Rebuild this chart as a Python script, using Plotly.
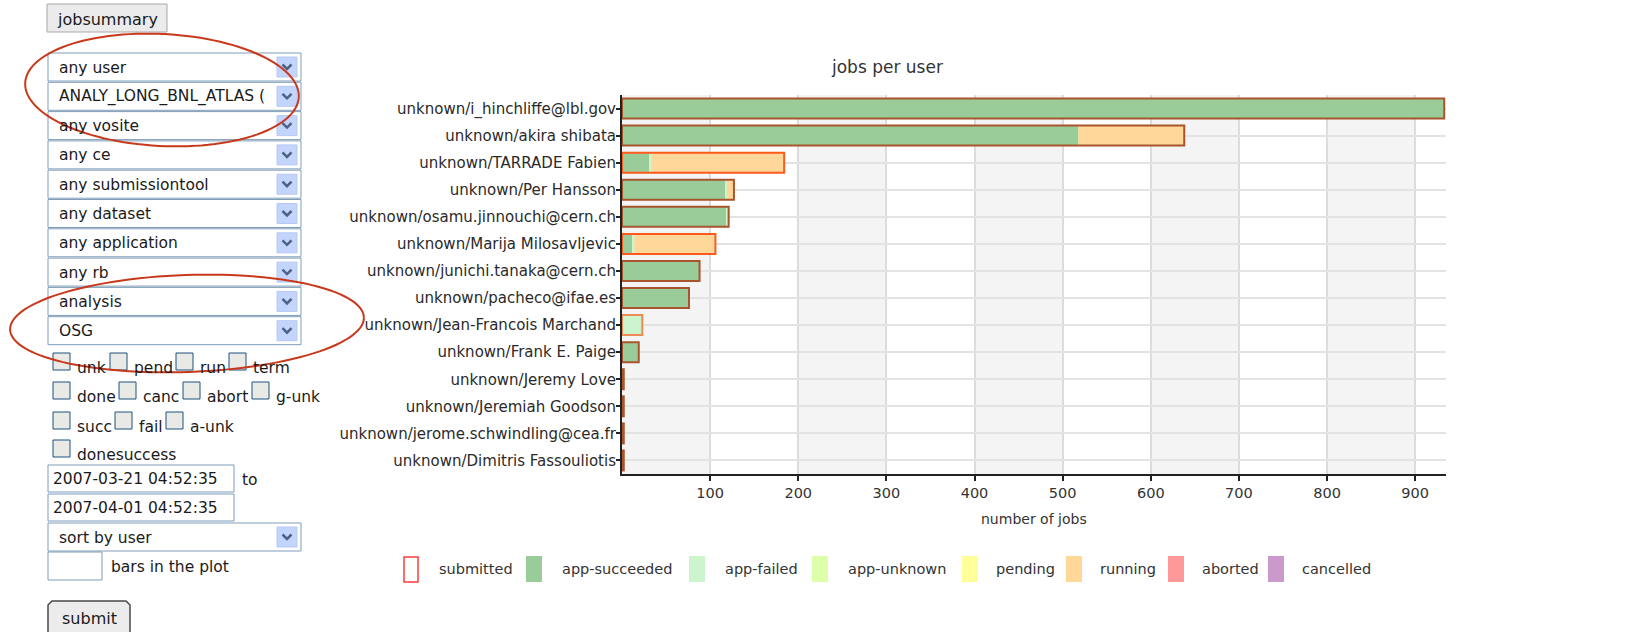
import math
import plotly.graph_objects as go

# ---------------- data ----------------
users = [
    "unknown/i_hinchliffe@lbl.gov",
    "unknown/akira shibata",
    "unknown/TARRADE Fabien",
    "unknown/Per Hansson",
    "unknown/osamu.jinnouchi@cern.ch",
    "unknown/Marija Milosavljevic",
    "unknown/junichi.tanaka@cern.ch",
    "unknown/pacheco@ifae.es",
    "unknown/Jean-Francois Marchand",
    "unknown/Frank E. Paige",
    "unknown/Jeremy Love",
    "unknown/Jeremiah Goodson",
    "unknown/jerome.schwindling@cea.fr",
    "unknown/Dimitris Fassouliotis",
]
submitted     = [933, 638, 184, 127, 121, 106, 88, 76, 23, 19, 2, 2, 2, 2]
app_succeeded = [933, 518, 31, 117, 118, 12, 88, 75, 0, 19, 2, 2, 2, 2]
app_failed    = [0, 0, 2, 2, 3, 2, 0, 1, 23, 0, 0, 0, 0, 0]
app_unknown   = [0, 0, 0, 0, 0, 0, 0, 0, 0, 0, 0, 0, 0, 0]
pending       = [0, 0, 0, 0, 0, 0, 0, 0, 0, 0, 0, 0, 0, 0]
running       = [0, 120, 151, 8, 0, 92, 0, 0, 0, 0, 0, 0, 0, 0]
aborted       = [0, 0, 0, 0, 0, 0, 0, 0, 0, 0, 0, 0, 0, 0]
cancelled     = [0, 0, 0, 0, 0, 0, 0, 0, 0, 0, 0, 0, 0, 0]
x_ticks = [100, 200, 300, 400, 500, 600, 700, 800, 900]

legend_names = ["submitted", "app-succeeded", "app-failed", "app-unknown",
                "pending", "running", "aborted", "cancelled"]

select_labels = ["any user", "ANALY_LONG_BNL_ATLAS (", "any vosite", "any ce",
                 "any submissiontool", "any dataset", "any application",
                 "any rb", "analysis", "OSG"]
checkbox_rows = [["unk", "pend", "run", "term"],
                 ["done", "canc", "abort", "g-unk"],
                 ["succ", "fail", "a-unk"],
                 ["donesuccess"]]
date_from = "2007-03-21 04:52:35"
date_to = "2007-04-01 04:52:35"

# ---------------- layout helpers ----------------
W, H = 1652, 632
X_MAX = 935
L, R, T, B = 622, 1446, 95, 474
FONT = "DejaVu Sans"


def px(x):
    return (x - L) / (R - L)


def py(y):
    return 1 - (y - T) / (B - T)


colors = {
    "app-succeeded": "#99cc99",
    "app-failed": "#cdf5cd",
    "app-unknown": "#ddffaa",
    "pending": "#ffff99",
    "running": "#ffd899",
    "aborted": "#ff9999",
    "cancelled": "#cc99cc",
}

fig = go.Figure()

status_series = [("app-succeeded", app_succeeded), ("app-failed", app_failed),
                 ("app-unknown", app_unknown), ("pending", pending),
                 ("running", running), ("aborted", aborted),
                 ("cancelled", cancelled)]
base = [0] * len(users)
for name, vals in status_series:
    fig.add_trace(go.Bar(
        y=users, x=vals, base=list(base), orientation="h", name=name,
        marker=dict(color=colors[name], line=dict(width=0)),
        width=0.74, showlegend=False,
    ))
    base = [b + v for b, v in zip(base, vals)]

# outline tone follows the dominant fill underneath it
outline_colors = []
for s, f, r in zip(app_succeeded, app_failed, running):
    if r > s:
        outline_colors.append("#ff5a1e")
    elif f > s:
        outline_colors.append("#ee8a55")
    else:
        outline_colors.append("#a8542c")

fig.add_trace(go.Bar(
    y=users, x=submitted, base=[0] * len(users), orientation="h", name="submitted",
    marker=dict(color="rgba(0,0,0,0)", line=dict(color=outline_colors, width=2)),
    width=0.74, showlegend=False,
))

shapes = []
annotations = []

# alternating vertical bands in the plot background
for i, t in enumerate([0] + x_ticks):
    if i % 2 == 0:
        shapes.append(dict(type="rect", xref="x", yref="paper", x0=t, x1=t + 100,
                           y0=0, y1=1, fillcolor="#f4f4f4", line=dict(width=0),
                           layer="below"))


def rect(x0, y0, x1, y1, fill="white", line="#7f9db9", lw=1):
    shapes.append(dict(type="rect", xref="paper", yref="paper",
                       x0=px(x0), x1=px(x1), y0=py(y1), y1=py(y0),
                       fillcolor=fill, line=dict(color=line, width=lw), layer="above"))


def text(x, y, s, size=15.5, anchor="left", color="#1a1a1a"):
    annotations.append(dict(xref="paper", yref="paper", x=px(x), y=py(y), text=s,
                            showarrow=False, xanchor=anchor, yanchor="middle",
                            font=dict(family=FONT, size=size, color=color)))


def path(points, color, lw, closed=False, fill=None):
    d = "M " + " L ".join(f"{px(a):.5f},{py(b):.5f}" for a, b in points)
    if closed:
        d += " Z"
    sh = dict(type="path", xref="paper", yref="paper", path=d,
              line=dict(color=color, width=lw), layer="above")
    if fill:
        sh["fillcolor"] = fill
    shapes.append(sh)


def ellipse(cx, cy, a, b, deg, color, lw):
    th = math.radians(deg)
    pts = []
    for k in range(121):
        t = 2 * math.pi * k / 120
        ex, ey = a * math.cos(t), b * math.sin(t)
        pts.append((cx + ex * math.cos(th) - ey * math.sin(th),
                    cy + ex * math.sin(th) + ey * math.cos(th)))
    path(pts, color, lw)


def arrow_button(top):
    rect(277, top + 4, 297, top + 24, fill="#c3d5fc", line="#b7c9f3", lw=1)
    cx, cy = 287, top + 14
    path([(cx - 4.5, cy - 2.5), (cx, cy + 2), (cx + 4.5, cy - 2.5)], "#4d6185", 2.5)


# jobsummary button
rect(47, 4, 167, 32, fill="#ebebeb", line="#a8a8a8", lw=1)
text(107, 19, "jobsummary", size=16, anchor="center")

# select boxes
for i, lab in enumerate(select_labels):
    top = 53 + 29.3 * i
    rect(48, top, 301, top + 28)
    text(57, top + 14.5, lab)
    arrow_button(top)

# checkboxes
cb_box_x = [[53, 110, 176, 229], [53, 119, 183, 252], [53, 115, 166], [53]]
cb_top = [353, 382, 412, 440]
for r, labels in enumerate(checkbox_rows):
    for c, lab in enumerate(labels):
        bx = cb_box_x[r][c]
        rect(bx, cb_top[r], bx + 17, cb_top[r] + 17, fill="#e9e9e6", line="#1c5180", lw=1)
        text(bx + 22, cb_top[r] + 14.5, lab)

# date inputs
rect(48, 465, 234, 492)
text(51, 479, date_from)
text(240, 480, "to")
rect(48, 494, 234, 521)
text(51, 507.5, date_to)

# sort select
rect(48, 523, 301, 551)
text(57, 537.5, "sort by user")
arrow_button(523)

# bars input
rect(48, 552, 102, 580)
text(109, 566.5, "bars in the plot")

# submit button (rounded)
rr = 4
btn = [(48 + rr, 601), (130 - rr, 601), (130, 601 + rr), (130, 645), (48, 645),
       (48, 601 + rr)]
path(btn, "#4a4a4a", 1.5, closed=True, fill="#ececec")
text(89, 618, "submit", size=16, anchor="center")

# red ellipses
ellipse(162, 90, 137, 56, 3, "#c8391c", 2)
ellipse(187, 323.5, 177, 48.5, -2, "#c8391c", 2)

# chart title and x axis title
text(887, 67, "jobs per user", size=17, anchor="center", color="#333333")
text(1034, 519, "number of jobs", size=14, anchor="center", color="#333333")

# manual legend
sw_x = [403, 526, 689, 812, 962, 1066, 1168, 1268]
tx_x = [437, 560, 723, 846, 994, 1098, 1200, 1300]
for name, sx, tx in zip(legend_names, sw_x, tx_x):
    if name == "submitted":
        rect(sx + 1, 557, sx + 15, 582, fill="white", line="#ff3b3b", lw=1.5)
    else:
        rect(sx, 556, sx + 16, 582, fill=colors[name], line=colors[name], lw=0)
    text(tx, 569, name, size=14.5, color="#333333")

fig.update_layout(
    width=W, height=H, autosize=False,
    margin=dict(l=L, r=W - R, t=T, b=H - B, pad=0),
    paper_bgcolor="white", plot_bgcolor="white",
    barmode="overlay", showlegend=False,
    shapes=shapes, annotations=annotations,
    font=dict(family=FONT, color="#333333"),
)
fig.update_xaxes(
    range=[0, X_MAX], tickvals=x_ticks, ticks="outside", ticklen=5, tickwidth=1.5,
    tickcolor="#222", showline=True, linecolor="#222", linewidth=2,
    showgrid=True, gridcolor="#dcdcdc", gridwidth=1.5, zeroline=False,
    tickfont=dict(family=FONT, size=14.5, color="#333333"),
)
fig.update_yaxes(
    type="category", categoryorder="array", categoryarray=users,
    range=[len(users) - 0.5, -0.5], ticks="outside", ticklen=4, tickwidth=1.5,
    tickcolor="#222", showline=True, linecolor="#222", linewidth=2,
    showgrid=True, gridcolor="#e3e3e3", gridwidth=1.5, zeroline=False,
    ticklabelstandoff=-3,
    tickfont=dict(family=FONT, size=15, color="#2a2a2a"),
)

fig.write_html("out.html", config={"displayModeBar": False},
               post_script="document.body.style.margin='0';document.body.style.overflow='hidden';")
